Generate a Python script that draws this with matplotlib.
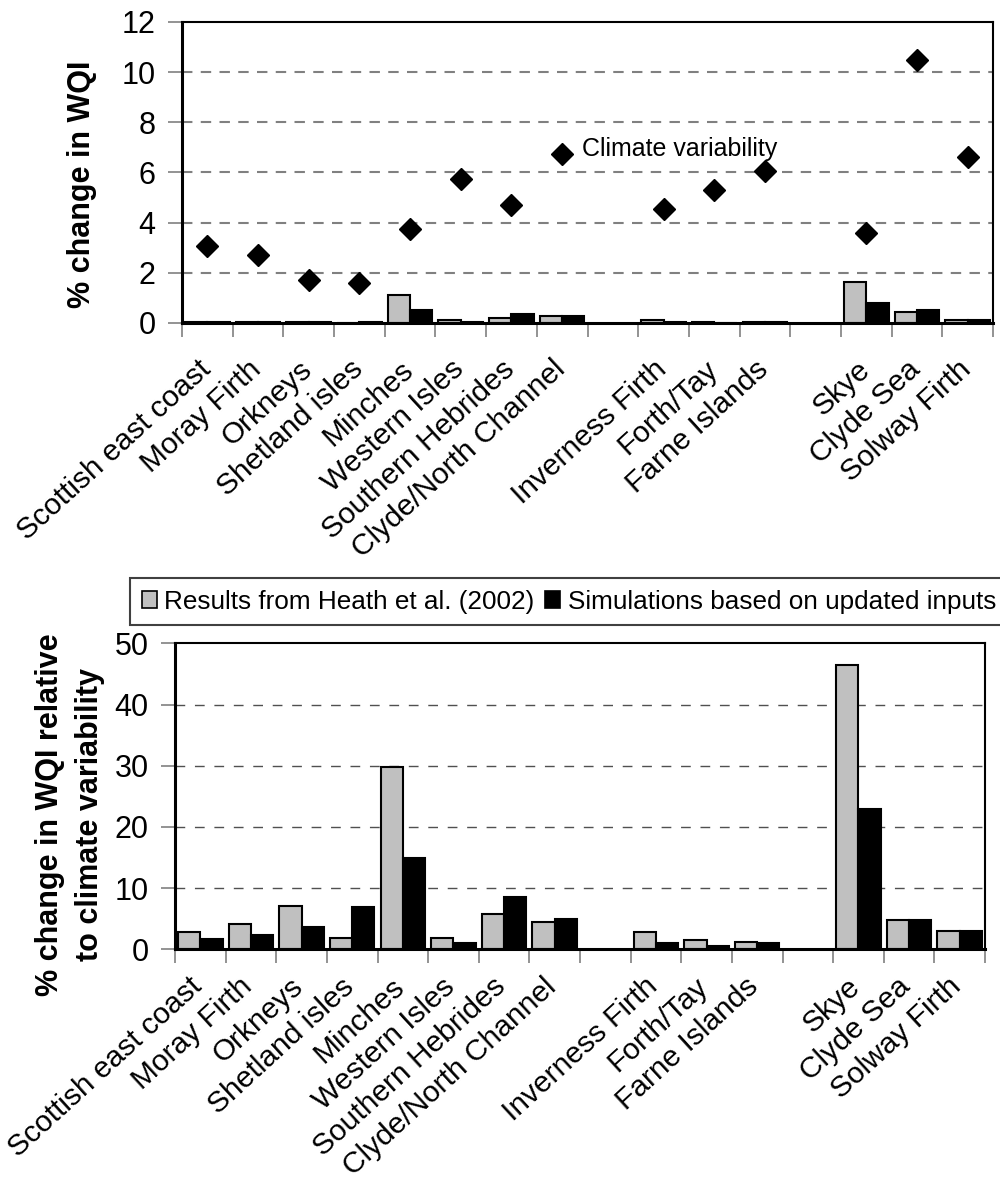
import numpy as np
import matplotlib
matplotlib.use('Agg')
import matplotlib.pyplot as plt
from matplotlib.patches import Patch
from matplotlib.transforms import blended_transform_factory, ScaledTranslation

plt.rcParams['font.family'] = ['Liberation Sans', 'DejaVu Sans']

nan = np.nan
categories = ['Scottish east coast', 'Moray Firth', 'Orkneys', 'Shetland isles', 'Minches',
              'Western Isles', 'Southern Hebrides', 'Clyde/North Channel', '',
              'Inverness Firth', 'Forth/Tay', 'Farne Islands', '',
              'Skye', 'Clyde Sea', 'Solway Firth']
top_heath = [0.05, 0.05, 0.05, 0.0, 1.1, 0.12, 0.2, 0.28, nan, 0.13, 0.05, 0.05, nan, 1.62, 0.45, 0.13]
top_updated = [0.05, 0.05, 0.05, 0.05, 0.53, 0.05, 0.37, 0.28, nan, 0.05, 0.0, 0.05, nan, 0.79, 0.53, 0.13]
climate_var = [3.05, 2.7, 1.7, 1.6, 3.75, 5.75, 4.7, 6.75, nan, 4.55, 5.3, 6.05, nan, 3.6, 10.5, 6.6]
bot_heath = [2.9, 4.2, 7.1, 1.9, 29.8, 1.9, 5.8, 4.5, nan, 2.9, 1.6, 1.25, nan, 46.5, 4.85, 2.95]
bot_updated = [1.64, 2.3, 3.6, 6.9, 15.0, 1.0, 8.5, 4.9, nan, 1.0, 0.6, 1.0, nan, 23.0, 4.85, 2.95]
top_yticks = [0, 2, 4, 6, 8, 10, 12]
bot_yticks = [0, 10, 20, 30, 40, 50]
legend_labels = ['Results from Heath et al. (2002)', 'Simulations based on updated inputs']

GRAY = '#c0c0c0'
FS = 22
CAT_FS = 21.5
CAT_ROT = 42.5

fig = plt.figure(figsize=(10, 11.8), dpi=100)
ax1 = fig.add_axes([0.182, 0.7263, 0.811, 0.2551])
ax2 = fig.add_axes([0.175, 0.1955, 0.810, 0.2593])

n = len(categories)
centers = np.arange(n) + 0.5
bw = 0.44


def style(ax, yticks, grid_color, grid_dash, grid_lw):
    ax.set_xlim(0, n)
    ax.set_ylim(yticks[0], yticks[-1])
    ax.set_yticks(yticks)
    ax.set_yticklabels([str(v) for v in yticks], fontsize=FS)
    ax.set_xticks(np.arange(n + 1))
    ax.set_xticklabels([])
    ax.tick_params(axis='x', which='major', length=10, width=1.2, color='#808080', direction='out')
    ax.tick_params(axis='y', length=10, width=1.2, color='#808080', direction='out', pad=9)
    for v in yticks[1:-1]:
        ax.axhline(v, color=grid_color, linestyle=(0, grid_dash), linewidth=grid_lw, zorder=0)
    for s in ax.spines.values():
        s.set_linewidth(1.5)
        s.set_color('black')
    ax.spines['left'].set_linewidth(2.2)
    ax.spines['bottom'].set_linewidth(2.2)


def cat_labels(ax, dx_px, dy_px):
    base = blended_transform_factory(ax.transData, ax.transAxes)
    off = ScaledTranslation(dx_px / 100, -dy_px / 100, fig.dpi_scale_trans)
    for c, lab in zip(centers, categories):
        if lab:
            ax.text(c, 0, lab, transform=base + off, rotation=CAT_ROT, ha='right', va='top',
                    rotation_mode='anchor', fontsize=CAT_FS, clip_on=False)


style(ax1, top_yticks, '#808080', (5, 4), 1.5)
style(ax2, bot_yticks, '#505050', (7, 7), 1.0)
cat_labels(ax1, -10, 32)
cat_labels(ax2, -12, 23)

ax1.bar(centers - bw / 2, top_heath, width=bw, color=GRAY, edgecolor='black', linewidth=1.5, zorder=2)
ax1.bar(centers + bw / 2, top_updated, width=bw, color='black', edgecolor='black', linewidth=1.5, zorder=2)
ax1.plot(centers, climate_var, linestyle='none', marker='D', markersize=11, color='black', zorder=3)
ax1.text(7.89, 6.95, 'Climate variability', fontsize=18, ha='left', va='center')
ax1.set_ylabel('% change in WQI', fontsize=FS, fontweight='bold')
ax1.yaxis.set_label_coords(-0.105, 0.462)

ax2.bar(centers - bw / 2, bot_heath, width=bw, color=GRAY, edgecolor='black', linewidth=1.5, zorder=2)
ax2.bar(centers + bw / 2, bot_updated, width=bw, color='black', edgecolor='black', linewidth=1.5, zorder=2)
ax2.set_ylabel('% change in WQI relative\nto climate variability', fontsize=FS,
               fontweight='bold', linespacing=1.42)
ax2.yaxis.set_label_coords(-0.0864, 0.439)

handles = [Patch(facecolor=GRAY, edgecolor='black', linewidth=1.2),
           Patch(facecolor='black', edgecolor='black', linewidth=1.2)]
leg = fig.legend(handles, legend_labels, loc='upper left', bbox_to_anchor=(0.13, 1 - 578 / 1180),
                 ncol=2, fontsize=18.8, frameon=True, fancybox=False, framealpha=1,
                 edgecolor='#404040', handlelength=0.57, handleheight=0.57, handletextpad=0.3,
                 columnspacing=0.4, borderpad=0.45, borderaxespad=0)
leg.get_frame().set_linewidth(1.5)

fig.savefig('out.png', dpi=100)
